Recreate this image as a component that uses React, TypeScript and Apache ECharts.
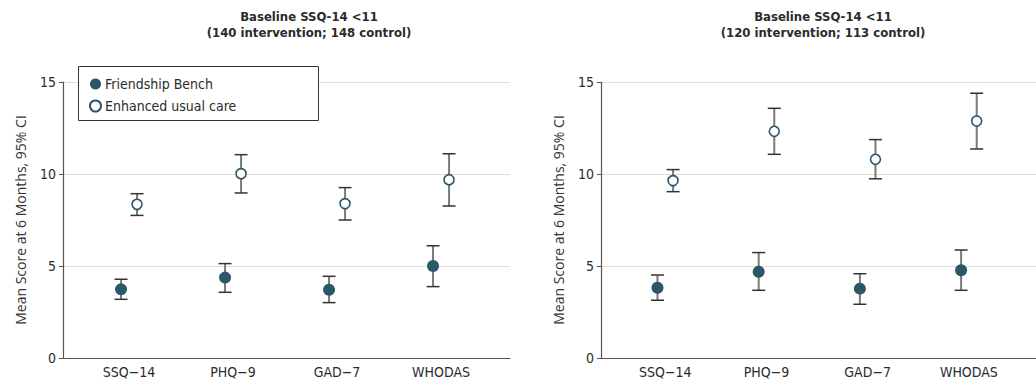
import React, { useEffect, useRef } from "react";
import * as echarts from "echarts";

const categories = ["SSQ−14", "PHQ−9", "GAD−7", "WHODAS"];
const titles = [
  "Baseline SSQ-14 <11\n(140 intervention; 148 control)",
  "Baseline SSQ-14 <11\n(120 intervention; 113 control)",
];
const seriesNames = ["Friendship Bench", "Enhanced usual care"];

// Left panel
const leftFbMean = [3.73, 4.37, 3.71, 5.0];
const leftFbLow = [3.19, 3.57, 3.01, 3.88];
const leftFbHigh = [4.28, 5.13, 4.44, 6.1];
const leftEucMean = [8.35, 10.02, 8.39, 9.69];
const leftEucLow = [7.75, 8.97, 7.5, 8.26];
const leftEucHigh = [8.93, 11.05, 9.26, 11.1];

// Right panel
const rightFbMean = [3.82, 4.69, 3.77, 4.77];
const rightFbLow = [3.14, 3.68, 2.92, 3.68];
const rightFbHigh = [4.51, 5.73, 4.58, 5.87];
const rightEucMean = [9.64, 12.32, 10.8, 12.88];
const rightEucLow = [9.04, 11.07, 9.74, 11.36];
const rightEucHigh = [10.24, 13.57, 11.87, 14.39];

const yTicks = [0, 5, 10, 15];
const yName = "Mean Score at 6 Months, 95% CI";

const TEAL = "#2b5766";
const TEXT = "#2b2b2b";
const FONT = "'Liberation Sans Narrow', 'DejaVu Sans Condensed', 'Roboto', sans-serif";
const NAME_FONT = "'Open Sans', 'Noto Sans', sans-serif";
const DODGE = 0.077;

export default function App() {
  const ref = useRef<HTMLDivElement>(null);
  useEffect(() => {
    if (!ref.current) return;
    const chart = echarts.init(ref.current, undefined, { renderer: "svg" });

    const panels = [
      { fbM: leftFbMean, fbL: leftFbLow, fbH: leftFbHigh, eM: leftEucMean, eL: leftEucLow, eH: leftEucHigh },
      { fbM: rightFbMean, fbL: rightFbLow, fbH: rightFbHigh, eM: rightEucMean, eL: rightEucLow, eH: rightEucHigh },
    ];

    const errRender = (params: any, api: any) => {
      const x = api.value(0);
      const lo = api.coord([x, api.value(1)]);
      const hi = api.coord([x, api.value(2)]);
      const half = 6.5;
      return {
        type: "group",
        children: [
          { type: "line", shape: { x1: lo[0], y1: lo[1], x2: hi[0], y2: hi[1] }, style: { stroke: "#7a7a7a", lineWidth: 2 } },
          { type: "line", shape: { x1: lo[0] - half, y1: lo[1], x2: lo[0] + half, y2: lo[1] }, style: { stroke: "#333", lineWidth: 1.5 } },
          { type: "line", shape: { x1: hi[0] - half, y1: hi[1], x2: hi[0] + half, y2: hi[1] }, style: { stroke: "#333", lineWidth: 1.5 } },
        ],
      };
    };

    const series: any[] = [];
    panels.forEach((p, i) => {
      series.push({
        type: "custom",
        xAxisIndex: i,
        yAxisIndex: i,
        renderItem: errRender,
        data: p.fbM.map((_, k) => [k + 1 - DODGE, p.fbL[k], p.fbH[k]]),
        z: 2,
        silent: true,
      });
      series.push({
        type: "custom",
        xAxisIndex: i,
        yAxisIndex: i,
        renderItem: errRender,
        data: p.eM.map((_, k) => [k + 1 + DODGE, p.eL[k], p.eH[k]]),
        z: 2,
        silent: true,
      });
      series.push({
        name: seriesNames[0],
        type: "scatter",
        xAxisIndex: i,
        yAxisIndex: i,
        symbol: "circle",
        symbolSize: 12,
        itemStyle: { color: TEAL, opacity: 1 },
        data: p.fbM.map((v, k) => [k + 1 - DODGE, v]),
        z: 5,
      });
      series.push({
        name: seriesNames[1],
        type: "scatter",
        xAxisIndex: i,
        yAxisIndex: i,
        symbol: "circle",
        symbolSize: 10,
        itemStyle: { color: "#ffffff", borderColor: TEAL, borderWidth: 1.6, opacity: 1 },
        data: p.eM.map((v, k) => [k + 1 + DODGE, v]),
        z: 5,
      });
    });

    const xAxisBase = (gi: number) => ({
      type: "value",
      gridIndex: gi,
      min: 0.365,
      max: 4.663,
      axisLine: { show: true, onZero: false, lineStyle: { color: "#555", width: 1.2 } },
      axisTick: { show: false },
      splitLine: { show: false },
      axisLabel: {
        customValues: [1, 2, 3, 4],
        formatter: (v: number) => categories[Math.round(v) - 1] ?? "",
        color: TEXT,
        fontSize: 14,
        fontFamily: FONT,
        margin: 7,
      },
    });

    const yAxisBase = (gi: number) => ({
      type: "value",
      gridIndex: gi,
      min: yTicks[0],
      max: yTicks[yTicks.length - 1],
      interval: 5,
      name: yName,
      nameLocation: "middle",
      nameGap: 36,
      nameTextStyle: { color: "#333", fontSize: 14, fontFamily: NAME_FONT },
      axisLine: { show: true, lineStyle: { color: "#555", width: 1.2 } },
      axisTick: { show: true, length: 4, lineStyle: { color: "#555" } },
      splitLine: { show: true, lineStyle: { color: "#dddddd", width: 1.2 } },
      axisLabel: { color: TEXT, fontSize: 14, fontFamily: FONT, margin: 7 },
    });

    chart.setOption({
      animation: false,
      backgroundColor: "#ffffff",
      textStyle: { fontFamily: FONT },
      title: [
        {
          text: titles[0],
          left: 304,
          top: 3,
          textAlign: "center",
          textStyle: { color: TEXT, fontSize: 13, fontWeight: "bold", fontFamily: FONT, lineHeight: 16 },
        },
        {
          text: titles[1],
          left: 818,
          top: 3,
          textAlign: "center",
          textStyle: { color: TEXT, fontSize: 13, fontWeight: "bold", fontFamily: FONT, lineHeight: 16 },
        },
      ],
      grid: [
        { left: 63, top: 82, width: 447, height: 276 },
        { left: 601, top: 82, width: 447, height: 276 },
      ],
      xAxis: [xAxisBase(0), xAxisBase(1)],
      yAxis: [yAxisBase(0), yAxisBase(1)],
      graphic: [
        {
          type: "rect",
          z: 3,
          shape: { x: 78.5, y: 66.5, width: 240, height: 54 },
          style: { fill: "#ffffff", stroke: "#333", lineWidth: 1 },
        },
      ],
      legend: {
        z: 6,
        orient: "vertical",
        left: 84,
        top: 72,
        itemWidth: 11,
        itemHeight: 11,
        itemGap: 8,
        icon: "circle",
        data: seriesNames,
        textStyle: { color: TEXT, fontSize: 14, fontFamily: FONT, padding: [0, 0, 0, -1] },
        selectedMode: false,
      },
      series,
    });

    return () => chart.dispose();
  }, []);

  return (
    <div
      ref={ref}
      style={{ position: "fixed", left: 0, top: 0, width: 1036, height: 385, background: "#fff" }}
    />
  );
}
